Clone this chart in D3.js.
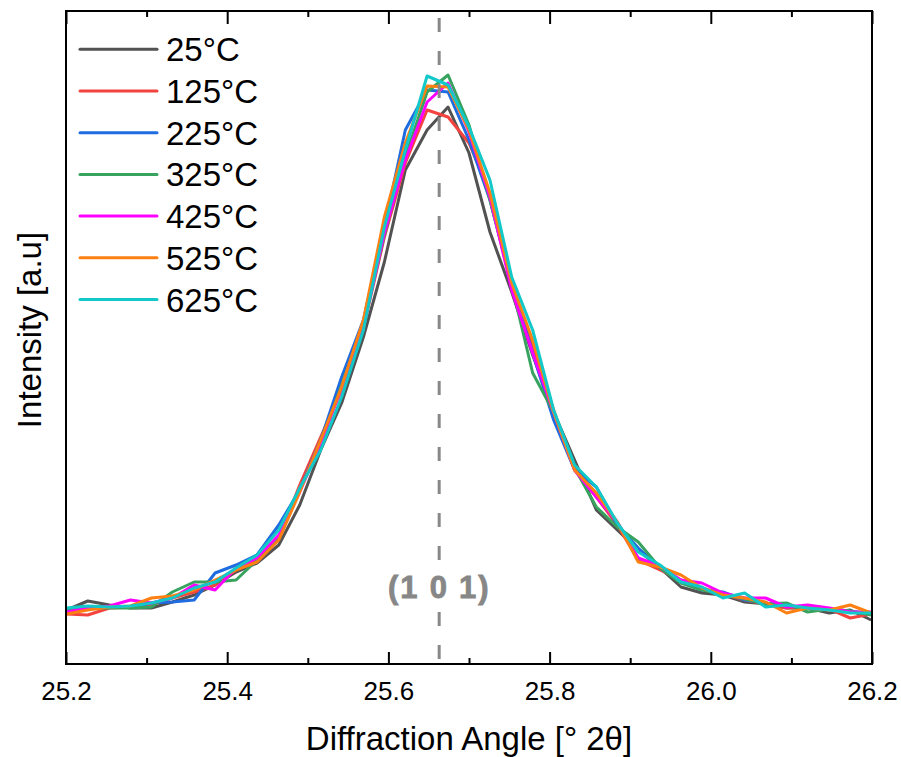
<!DOCTYPE html>
<html>
<head>
<meta charset="utf-8">
<script src="https://cdn.jsdelivr.net/npm/d3@7"></script>
<style>
	body { margin: 0; background: #fff; }
	text { font-family: "Liberation Sans", Arial, sans-serif; }
</style>
</head>
<body>
<div id="chart"></div>
<script>
// 2theta grid (deg), step ~0.0263
let angle = [25.201, 25.227, 25.254, 25.280, 25.306, 25.332, 25.359, 25.385, 25.411, 25.437,
	25.464, 25.490, 25.516, 25.542, 25.569, 25.595, 25.621, 25.648, 25.674, 25.700,
	25.726, 25.753, 25.779, 25.805, 25.831, 25.858, 25.884, 25.910, 25.937, 25.963,
	25.989, 26.015, 26.042, 26.068, 26.094, 26.120, 26.147, 26.173, 26.199];

let temps = ["25°C", "125°C", "225°C", "325°C", "425°C", "525°C", "625°C"];
let colors = ["#525252", "#f2433f", "#1f6ce0", "#37a35f", "#ff00ff", "#ff8012", "#12c8c8"];

// intensities, arbitrary units
let i25 = [54, 63, 59, 56, 56, 62, 69, 79, 92, 101, 119, 159, 214, 261, 327, 402, 494, 534, 557, 511,
	432, 372, 309, 252, 204, 154, 134, 114, 96, 77, 71, 69, 62, 60, 56, 56, 51, 54, 44];
let i125 = [50, 49, 56, 57, 59, 66, 72, 79, 94, 104, 126, 179, 227, 274, 336, 427, 501, 554, 547, 521,
	471, 379, 317, 254, 194, 167, 139, 104, 94, 84, 76, 70, 64, 60, 56, 57, 55, 46, 50];
let i225 = [54, 55, 57, 57, 61, 62, 64, 91, 99, 109, 139, 174, 224, 287, 344, 437, 534, 574, 572, 524,
	464, 381, 311, 244, 194, 177, 139, 116, 96, 82, 74, 72, 64, 61, 58, 56, 55, 53, 50];
let i325 = [53, 56, 56, 56, 57, 72, 82, 82, 84, 104, 126, 174, 219, 279, 339, 429, 507, 572, 589, 539,
	464, 379, 291, 252, 196, 157, 137, 122, 96, 81, 74, 70, 65, 60, 61, 52, 55, 53, 49];
let i425 = [52, 56, 58, 64, 61, 66, 79, 74, 96, 106, 129, 172, 221, 276, 337, 431, 504, 562, 581, 532,
	467, 374, 311, 252, 194, 167, 142, 106, 98, 84, 81, 71, 66, 66, 57, 59, 56, 52, 52];
let i525 = [50, 54, 57, 58, 66, 68, 74, 84, 94, 102, 124, 172, 224, 277, 344, 447, 521, 578, 577, 534,
	471, 381, 324, 252, 194, 171, 142, 102, 97, 89, 76, 69, 66, 62, 51, 56, 54, 59, 51];
let i625 = [56, 58, 57, 58, 61, 66, 76, 82, 96, 109, 134, 176, 214, 267, 334, 437, 514, 588, 579, 537,
	484, 387, 334, 254, 199, 177, 141, 112, 99, 82, 77, 66, 71, 57, 59, 56, 54, 51, 51];

let series = [i25, i125, i225, i325, i425, i525, i625];

let majorTicks = [25.2, 25.4, 25.6, 25.8, 26.0, 26.2];
let minorTicks = [25.3, 25.5, 25.7, 25.9, 26.1];
let peakPos = 25.663;
let peakLabel = "(1 0 1)";

let width = 901;
let height = 757;
let margin = { top: 11, right: 29, bottom: 93, left: 66 };

let x = d3.scaleLinear().domain([25.2, 26.2]).range([margin.left, width - margin.right]);
let y = d3.scaleLinear().domain([0, 653]).range([height - margin.bottom, margin.top]);

let svg = d3.select("#chart")
	.append("svg")
	.attr("width", width)
	.attr("height", height);

svg.append("defs").append("clipPath")
	.attr("id", "plot-clip")
	.append("rect")
	.attr("x", margin.left)
	.attr("y", margin.top)
	.attr("width", width - margin.left - margin.right)
	.attr("height", height - margin.top - margin.bottom);

let line = d3.line()
	.x((d, i) => x(angle[i]))
	.y(d => y(d));

let lines = svg.append("g").attr("clip-path", "url(#plot-clip)");

lines.selectAll(".series")
	.data(series)
	.enter()
	.append("path")
	.attr("class", "series")
	.attr("d", d => line(d))
	.attr("fill", "none")
	.attr("stroke", (d, i) => colors[i])
	.attr("stroke-width", 3)
	.attr("stroke-linejoin", "round");

// peak marker
svg.append("line")
	.attr("x1", x(peakPos))
	.attr("x2", x(peakPos))
	.attr("y1", margin.top)
	.attr("y2", height - margin.bottom)
	.attr("stroke", "#888")
	.attr("stroke-width", 3)
	.attr("stroke-dasharray", "14,19")
	.attr("stroke-dashoffset", 26);

svg.append("rect")
	.attr("x", x(peakPos) - 54)
	.attr("y", 566)
	.attr("width", 108)
	.attr("height", 44)
	.attr("fill", "#fff");

svg.append("text")
	.attr("x", x(peakPos))
	.attr("y", 598)
	.attr("text-anchor", "middle")
	.attr("font-size", 31)
	.attr("font-weight", "bold")
	.attr("letter-spacing", 1.8)
	.attr("fill", "#878787")
	.attr("stroke", "#878787")
	.attr("stroke-width", 0.8)
	.text(peakLabel);

// axes
let bottomY = height - margin.bottom;

svg.append("g")
	.attr("transform", "translate(0," + bottomY + ")")
	.call(d3.axisBottom(x).tickValues(majorTicks).tickFormat(d3.format(".1f"))
		.tickSizeInner(-12).tickSizeOuter(0).tickPadding(17.5))
	.call(g => g.select(".domain").remove())
	.call(g => g.selectAll(".tick line").attr("stroke", "#000").attr("stroke-width", 2))
	.call(g => g.selectAll(".tick text")
		.attr("font-size", 26)
		.attr("font-family", "'Liberation Sans', Arial, sans-serif")
		.attr("fill", "#000"));

svg.append("g")
	.attr("transform", "translate(0," + bottomY + ")")
	.call(d3.axisBottom(x).tickValues(minorTicks).tickFormat("").tickSizeInner(-6).tickSizeOuter(0))
	.call(g => g.select(".domain").remove())
	.call(g => g.selectAll(".tick line").attr("stroke", "#000").attr("stroke-width", 2));

svg.append("g")
	.attr("transform", "translate(0," + margin.top + ")")
	.call(d3.axisTop(x).tickValues(majorTicks).tickFormat("").tickSizeInner(-13).tickSizeOuter(0))
	.call(g => g.select(".domain").remove())
	.call(g => g.selectAll(".tick line").attr("stroke", "#000").attr("stroke-width", 2));

svg.append("g")
	.attr("transform", "translate(0," + margin.top + ")")
	.call(d3.axisTop(x).tickValues(minorTicks).tickFormat("").tickSizeInner(-6).tickSizeOuter(0))
	.call(g => g.select(".domain").remove())
	.call(g => g.selectAll(".tick line").attr("stroke", "#000").attr("stroke-width", 2));

// frame
svg.append("rect")
	.attr("x", margin.left)
	.attr("y", margin.top)
	.attr("width", width - margin.left - margin.right)
	.attr("height", height - margin.top - margin.bottom)
	.attr("fill", "none")
	.attr("stroke", "#000")
	.attr("stroke-width", 2);

// axis titles
svg.append("text")
	.attr("x", (margin.left + width - margin.right) / 2)
	.attr("y", 750)
	.attr("text-anchor", "middle")
	.attr("font-size", 33)
	.text("Diffraction Angle [° 2θ]");

svg.append("text")
	.attr("transform", "translate(41,330) rotate(-90)")
	.attr("text-anchor", "middle")
	.attr("font-size", 33)
	.text("Intensity [a.u]");

// legend
let legend = svg.append("g");
let legendItems = legend.selectAll(".legend-item")
	.data(temps)
	.enter()
	.append("g")
	.attr("class", "legend-item")
	.attr("transform", (d, i) => "translate(80," + (49.3 + i * 41.7) + ")");

legendItems.append("line")
	.attr("x1", 0)
	.attr("x2", 77)
	.attr("stroke", (d, i) => colors[i])
	.attr("stroke-width", 3)
	.attr("stroke-linecap", "round");

legendItems.append("text")
	.attr("x", 86)
	.attr("y", 12)
	.attr("font-size", 33)
	.text(d => d);
</script>
</body>
</html>
